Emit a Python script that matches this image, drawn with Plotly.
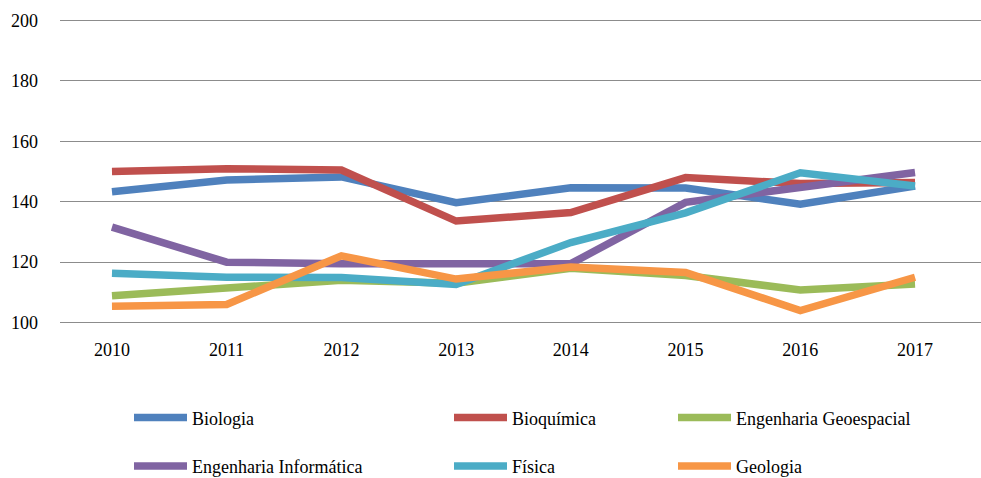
import plotly.graph_objects as go

years = ["2010", "2011", "2012", "2013", "2014", "2015", "2016", "2017"]
biologia = [143.3, 147.2, 148.2, 139.7, 144.6, 144.5, 139.2, 145.2]
bioquimica = [150.0, 150.9, 150.5, 133.6, 136.4, 148.0, 146.0, 146.4]
eng_geoespacial = [108.9, 111.2, 114.0, 113.0, 118.0, 115.6, 110.8, 112.8]
eng_informatica = [131.6, 120.0, 119.5, 119.4, 119.5, 139.8, 144.8, 149.7]
fisica = [116.3, 115.0, 114.9, 112.6, 126.5, 136.3, 149.6, 145.2]
geologia = [105.4, 106.0, 122.1, 114.4, 118.4, 116.6, 104.0, 115.0]
y_ticks = [100, 120, 140, 160, 180, 200]

series = [
    ("Biologia", biologia, "#4F81BD", "legend"),
    ("Bioquímica", bioquimica, "#C0504D", "legend2"),
    ("Engenharia Geoespacial", eng_geoespacial, "#9BBB59", "legend3"),
    ("Engenharia Informática", eng_informatica, "#8064A2", "legend"),
    ("Física", fisica, "#4BACC6", "legend2"),
    ("Geologia", geologia, "#F79646", "legend3"),
]

FONT = "Liberation Serif, Times New Roman, serif"

fig = go.Figure()
for i, (name, vals, color, lg) in enumerate(series):
    fig.add_trace(go.Scatter(
        x=years, y=vals, name=name, mode="lines",
        line=dict(color=color, width=7.5),
        legend=lg, legendgroup=name,
    ))

W, H = 981, 478
# pixel positions of the 200 and 100 gridlines in the reference
Y_TOP_PX, Y_BOT_PX = 20.5, 322.3
PAD = 0.8  # axis-unit padding so the end gridlines are drawn
ppu = (Y_BOT_PX - Y_TOP_PX) / 100.0
T = Y_TOP_PX - PAD * ppu
Bpx = Y_BOT_PX + PAD * ppu
B = H - Bpx
L = 60
PW, PH = W - L, Bpx - T


def px_x(p):
    return (p - L) / PW


def px_y(p):
    return (Bpx - p) / PH


leg_common = dict(
    orientation="v", xref="paper", yref="paper",
    yanchor="top", xanchor="left", bgcolor="rgba(0,0,0,0)",
    font=dict(family=FONT, size=18, color="#000"),
    itemwidth=53, tracegroupgap=22, traceorder="grouped",
)
y_leg = px_y(399)
fig.update_layout(
    width=W, height=H,
    margin=dict(l=L, r=0, t=T, b=B, autoexpand=False),
    paper_bgcolor="white", plot_bgcolor="white",
    font=dict(family=FONT, size=18, color="#000"),
    showlegend=True,
    legend=dict(x=px_x(129), y=y_leg, **leg_common),
    legend2=dict(x=px_x(449), y=y_leg, **leg_common),
    legend3=dict(x=px_x(673), y=y_leg, **leg_common),
    xaxis=dict(
        type="category", range=[-0.453, 7.575],
        showgrid=False, zeroline=False, showline=False,
        ticks="", ticklabelstandoff=12,
        tickfont=dict(family=FONT, size=18, color="#000"),
    ),
    yaxis=dict(
        range=[100 - PAD, 200 + PAD], tickvals=y_ticks,
        showgrid=True, gridcolor="#8c8c8c", gridwidth=1,
        zeroline=False, showline=False, ticks="",
        ticklabelstandoff=21,
        tickfont=dict(family=FONT, size=18, color="#000"),
    ),
)

fig.write_html(
    "out.html",
    config={"displayModeBar": False},
    post_script="document.body.style.margin='0';document.body.style.overflow='hidden';",
)
